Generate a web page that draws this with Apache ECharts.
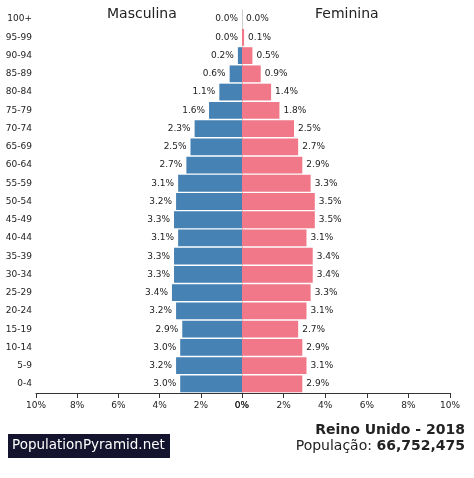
<!DOCTYPE html>
<html><head><meta charset="utf-8">
<script src="https://cdn.jsdelivr.net/npm/echarts@6/dist/echarts.min.js"></script>
<style>html,body{margin:0;padding:0;background:#fff}#c{width:474px;height:478px}</style>
</head><body><div id="c"></div>
<script>
const ages=['0-4','5-9','10-14','15-19','20-24','25-29','30-34','35-39','40-44','45-49','50-54','55-59','60-64','65-69','70-74','75-79','80-84','85-89','90-94','95-99','100+'];
const male=[3.0,3.2,3.0,2.9,3.2,3.4,3.3,3.3,3.1,3.3,3.2,3.1,2.7,2.5,2.3,1.6,1.1,0.6,0.2,0.0,0.0];
const female=[2.9,3.1,2.9,2.7,3.1,3.3,3.4,3.4,3.1,3.5,3.5,3.3,2.9,2.7,2.5,1.8,1.4,0.9,0.5,0.1,0.0];
const ticks=[0,2,4,6,8,10];
const ch=echarts.init(document.getElementById('c'));
const axisCommon={type:'value',min:0,max:10,interval:2,splitLine:{show:false},
 axisLine:{show:true,lineStyle:{color:'#333'}},axisTick:{show:true,lineStyle:{color:'#333'}},
 axisLabel:{formatter:v=>v+'%',fontSize:9,color:'#222',fontFamily:'DejaVu Sans'}};
const lbl=(pos)=>({show:true,position:pos,fontSize:9,color:'#222',fontFamily:'DejaVu Sans',formatter:p=>p.value.toFixed(1)+'%',distance:4});
ch.setOption({
 animation:false,
 grid:[{left:36,width:206,top:10,bottom:85},{left:242,width:208,top:10,bottom:85}],
 xAxis:[Object.assign({gridIndex:0,inverse:true},axisCommon),Object.assign({gridIndex:1},axisCommon)],
 yAxis:[{type:'category',gridIndex:0,data:ages,position:'left',axisLine:{show:false},axisTick:{show:false},
   axisLabel:{fontSize:9,color:'#222',fontFamily:'DejaVu Sans',margin:4}},
  {type:'category',gridIndex:1,data:ages,axisLine:{show:true,lineStyle:{color:'#ccc'}},axisTick:{show:false},axisLabel:{show:false}}],
 series:[
  {type:'bar',xAxisIndex:0,yAxisIndex:0,data:male,barCategoryGap:'8%',itemStyle:{color:'#4682b4'},label:lbl('left')},
  {type:'bar',xAxisIndex:1,yAxisIndex:1,data:female,barCategoryGap:'8%',itemStyle:{color:'#f07888'},label:lbl('right')}
 ],
 graphic:[
  {type:'text',left:107,top:7,style:{text:'Masculina',fontSize:14,fill:'#222',fontFamily:'DejaVu Sans'}},
  {type:'text',left:315,top:7,style:{text:'Feminina',fontSize:14,fill:'#222',fontFamily:'DejaVu Sans'}},
  {type:'rect',shape:{x:8,y:434,width:162,height:24},style:{fill:'#14142e'}},
  {type:'text',left:12,top:438,style:{text:'PopulationPyramid.net',fontSize:13.5,fill:'#fff',fontFamily:'DejaVu Sans'}},
  {type:'text',right:9,top:423,style:{text:'Reino Unido - 2018',fontSize:14,fontWeight:'bold',fill:'#222',fontFamily:'DejaVu Sans'}},
  {type:'text',right:9,top:439,style:{text:'{a|População: }{b|66,752,475}',rich:{a:{fontSize:14,fill:'#222',fontFamily:'DejaVu Sans'},b:{fontSize:14,fontWeight:'bold',fill:'#222',fontFamily:'DejaVu Sans'}}}}
 ]
});
</script></body></html>
